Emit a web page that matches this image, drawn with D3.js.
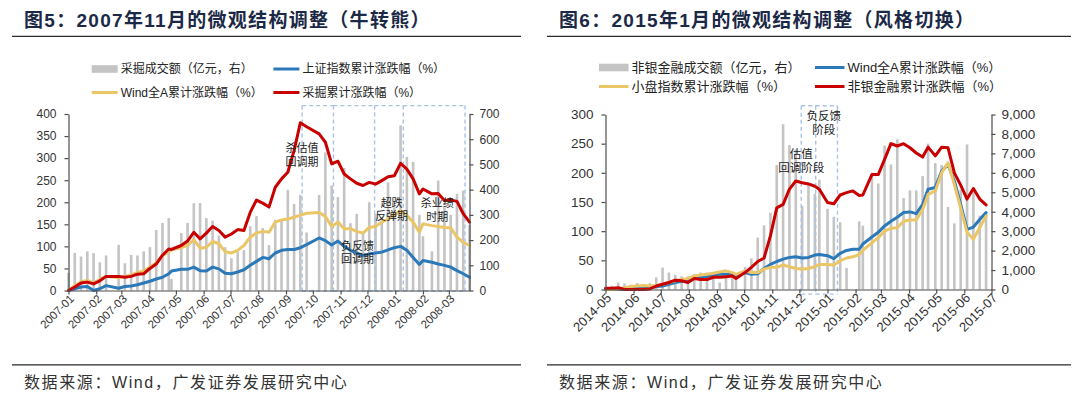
<!DOCTYPE html>
<html><head><meta charset="utf-8">
<script src="https://cdn.jsdelivr.net/npm/d3@7"></script>
<style>
body{margin:0;background:#fff;}
svg text{font-family:"Liberation Sans","Noto Sans CJK SC",sans-serif;}
</style></head><body>
<svg id="c" width="1080" height="394"></svg>
<script>
// ================= Chart 1 (图5) data =================
const dates1 = ["2007-01-05","2007-01-12","2007-01-19","2007-01-26","2007-02-02","2007-02-09","2007-02-16","2007-03-02","2007-03-09","2007-03-16","2007-03-23","2007-03-30","2007-04-06","2007-04-13","2007-04-20","2007-04-27","2007-04-30","2007-05-11","2007-05-18","2007-05-25","2007-06-01","2007-06-08","2007-06-15","2007-06-22","2007-06-29","2007-07-06","2007-07-13","2007-07-20","2007-07-27","2007-08-03","2007-08-10","2007-08-17","2007-08-24","2007-08-31","2007-09-07","2007-09-14","2007-09-21","2007-09-28","2007-10-12","2007-10-19","2007-10-26","2007-11-02","2007-11-09","2007-11-16","2007-11-23","2007-11-30","2007-12-07","2007-12-14","2007-12-21","2007-12-28","2008-01-04","2008-01-11","2008-01-18","2008-01-25","2008-02-01","2008-02-05","2008-02-15","2008-02-22","2008-02-29","2008-03-07","2008-03-14","2008-03-21","2008-03-28"];
const coalVolume = [70,149,135,155,148,112,139,181,108,141,139,155,172,240,268,287,46,228,268,346,347,287,277,218,172,128,152,160,255,295,248,180,280,277,399,343,379,230,379,548,416,370,486,267,304,230,350,304,290,429,330,655,530,510,300,215,155,436,330,300,383,396,260];
const shIndexRet = [0,4,8,9,0,4,11,5,9,10,13,17,21,26,30,38,44,48,48,53,45,44,53,49,39,38,42,47,57,66,75,72,85,91,93,93,97,104,119,113,103,112,100,91,85,79,83,85,87,92,97,100,91,75,59,68,64,60,57,53,45,38,30];
const windARet1 = [0,11,20,23,17,25,32,29,32,35,41,44,53,63,79,88,92,97,102,115,96,98,111,106,88,85,91,102,121,130,134,132,155,160,162,166,171,175,177,168,145,155,140,140,134,130,143,145,155,162,171,181,170,155,132,151,147,145,143,142,121,109,102];
const coalRet = [0,8,17,19,15,22,32,32,30,32,37,38,50,60,80,94,93,102,112,132,117,130,145,136,121,128,138,136,177,205,198,189,234,253,268,317,380,371,355,336,287,293,264,253,243,238,245,241,249,258,260,288,275,253,219,230,219,220,204,205,202,174,155];
const tickLabels1 = ["2007-01","2007-02","2007-03","2007-04","2007-05","2007-06","2007-07","2007-08","2007-09","2007-10","2007-11","2007-12","2008-01","2008-02","2008-03"];
const leftTicks1 = [0,50,100,150,200,250,300,350,400];
const rightTicks1 = [0,100,200,300,400,500,600,700];
const boxes1 = [["2007-09-23","2007-10-28"],["2007-10-28","2007-12-13"],["2007-12-13","2008-01-14"],["2008-01-14","2008-03-23"]];
const notes1 = [
  {date:"2007-09-23", v:313, lines:["杀估值","回调期"]},
  {date:"2007-11-24", v:92, lines:["负反馈","回调期"]},
  {date:"2008-01-01", v:190, lines:["超跌","反弹期"]},
  {date:"2008-02-21", v:189, lines:["杀业绩","时期"]}
];
const legend1 = ["采掘成交额（亿元，右）","上证指数累计涨跌幅（%）","Wind全A累计涨跌幅（%）","采掘累计涨跌幅（%）"];

// ================= Chart 2 (图6) data =================
const dates2 = ["2014-05-09","2014-05-16","2014-05-23","2014-05-30","2014-06-06","2014-06-13","2014-06-20","2014-06-27","2014-07-04","2014-07-11","2014-07-18","2014-07-25","2014-08-01","2014-08-08","2014-08-15","2014-08-22","2014-08-29","2014-09-05","2014-09-12","2014-09-19","2014-09-26","2014-09-30","2014-10-10","2014-10-17","2014-10-24","2014-10-31","2014-11-07","2014-11-14","2014-11-21","2014-11-28","2014-12-05","2014-12-12","2014-12-19","2014-12-26","2014-12-31","2015-01-09","2015-01-16","2015-01-23","2015-01-30","2015-02-06","2015-02-13","2015-02-17","2015-02-27","2015-03-06","2015-03-13","2015-03-20","2015-03-27","2015-04-03","2015-04-10","2015-04-17","2015-04-24","2015-04-30","2015-05-08","2015-05-15","2015-05-22","2015-05-29","2015-06-05","2015-06-12","2015-06-19","2015-06-26","2015-07-03"];
const finVolume = [0,190,360,310,240,330,270,330,620,1130,870,750,670,670,790,870,870,820,360,700,620,820,1160,1600,2670,3300,3950,6400,8500,7430,7200,4300,5500,4920,5650,4150,3740,3460,1110,0,3500,3280,5950,5450,7400,6430,7720,4700,5100,5100,5830,7500,6500,6400,4250,3400,5150,7460,5150,3800,3940];
const windARet2 = [0,0,0,1,2,3,4,3,5,6,9,12,14,17,21,22,22,25,26,26,26,25,29,26,27,36,43,48,52,55,56,54,55,59,60,58,53,62,67,69,69,78,90,98,109,117,124,132,133,130,146,172,175,203,214,186,146,103,107,120,132];
const smallCapRet = [0,0,1,3,5,6,7,6,7,9,12,15,17,19,23,25,26,28,30,32,29,26,32,29,29,35,38,38,42,39,36,35,36,39,43,43,42,49,54,56,60,67,80,89,100,105,106,117,119,119,137,163,169,200,217,180,140,98,86,106,126];
const finRet = [2,2,3,0,0,0,0,1,6,9,12,16,15,12,19,17,17,21,21,22,23,19,29,38,48,54,92,140,146,172,186,183,181,177,172,149,147,162,166,169,161,162,197,197,223,250,246,250,243,234,227,244,229,244,243,200,179,155,173,155,145];
const tickLabels2 = ["2014-05","2014-06","2014-07","2014-08","2014-09","2014-10","2014-11","2014-12","2015-01","2015-02","2015-03","2015-04","2015-05","2015-06","2015-07"];
const leftTicks2 = [0,50,100,150,200,250,300];
const rightTicks2 = [0,1000,2000,3000,4000,5000,6000,7000,8000,9000];
const boxes2 = [["2014-12-11","2014-12-27"],["2014-12-27","2015-01-20"]];
const notes2 = [
  {date:"2014-12-11", v:226, lines:["估值","回调阶段"]},
  {date:"2015-01-05", v:291, lines:["负反馈","阶段"]}
];
const legend2 = ["非银金融成交额（亿元，右）","Wind全A累计涨跌幅（%）","小盘指数累计涨跌幅（%）","非银金融累计涨跌幅（%）"];

// ================= drawing =================
const parse = d3.timeParse("%Y-%m-%d");
const svg = d3.select("#c");
const COL = {bar:"#c4c4c4", blue:"#2b79b9", yellow:"#ebc667", red:"#c80000", axis:"#4d4d4d", text:"#333"};

function drawChart(c){
  const g = svg.append("g");
  const start = parse(c.dates[0]);
  const x = d3.scaleTime().domain([start, parse(c.domainEnd)]).range([c.x0, c.x1]);
  const yL = d3.scaleLinear().domain([0, c.leftMax]).range([c.yB, c.yT]);
  const yR = d3.scaleLinear().domain([0, c.rightMax]).range([c.yB, c.yT]);

  // bars
  g.append("g").selectAll("rect")
    .data(c.dates.map((d,i)=>({d:parse(d), v:c.bars[i]})).filter(o=>o.v>0))
    .join("rect")
    .attr("x", o=>x(o.d)-c.bw/2).attr("width", c.bw)
    .attr("y", o=>yR(o.v)).attr("height", o=>yR(0)-yR(o.v))
    .attr("fill", COL.bar);

  // dashed boxes: horizontal edges per box, shared vertical edges drawn once
  const bx = g.append("g").attr("fill","none").attr("stroke","#a8c3e6")
    .attr("stroke-width",1.4).attr("stroke-dasharray","4,3");
  const yTop = yL(c.boxTop), yBot = yL(c.boxBottom);
  c.boxes.forEach(b=>{
    [yTop,yBot].forEach(yy=>bx.append("line").attr("x1",x(parse(b[0]))).attr("x2",x(parse(b[1])))
      .attr("y1",yy).attr("y2",yy));
  });
  const edges = Array.from(new Set(c.boxes.flat()));
  edges.forEach(e=>bx.append("line").attr("x1",x(parse(e))).attr("x2",x(parse(e)))
    .attr("y1",yTop).attr("y2",yBot));

  // lines
  const line = d3.line().x((v,i)=>x(parse(c.dates[i]))).y(v=>yL(v));
  c.series.forEach(s=>{
    g.append("path").datum(s.values).attr("d", line)
      .attr("fill","none").attr("stroke", s.color).attr("stroke-width", 3)
      .attr("stroke-linejoin","round").attr("stroke-linecap","round");
  });

  // axes
  const tickDates = c.tickLabels.map((t,i)=>d3.timeMonth.offset(start, i));
  const ax = g.append("g").attr("transform",`translate(0,${c.yB})`)
    .call(d3.axisBottom(x).tickValues(tickDates).tickSize(4).tickSizeOuter(0)
      .tickFormat((d,i)=>c.tickLabels[i]));
  ax.selectAll("text").attr("text-anchor","end")
    .attr("x", 0).attr("y", 0).attr("dy","0.35em")
    .attr("transform", `translate(${c.xlDx},${c.xlDy}) rotate(-45)`)
    .style("font-size", c.xFont+"px").attr("fill", COL.text);

  const al = g.append("g").attr("transform",`translate(${c.x0},0)`)
    .call(d3.axisLeft(yL).tickValues(c.leftTicks).tickSize(4).tickSizeOuter(0).tickPadding(c.yPadL));
  al.selectAll("text").style("font-size", c.yFont+"px").attr("fill", COL.text);
  const ar = g.append("g").attr("transform",`translate(${c.x1},0)`)
    .call(d3.axisRight(yR).tickValues(c.rightTicks).tickSize(4).tickSizeOuter(0).tickPadding(c.yPadR)
      .tickFormat(d3.format(c.rightFmt)));
  ar.selectAll("text").style("font-size", c.yFont+"px").attr("fill", COL.text);
  g.selectAll(".domain, .tick line").attr("stroke", COL.axis).attr("stroke-width",1.2);

  // annotations
  c.notes.forEach(n=>{
    const t = g.append("text").attr("text-anchor","middle")
      .style("font-size", c.noteFont+"px").attr("fill","#222");
    n.lines.forEach((l,k)=>{
      t.append("tspan").attr("x", x(parse(n.date))).attr("y", yL(n.v)+k*c.noteLH).text(l);
    });
  });

  // title + rules + footer
  svg.append("text").attr("x", c.titleX).attr("y", 27).text(c.title)
    .style("font-size","19px").style("font-weight","bold").style("letter-spacing","1.3px").attr("fill","#1b2946");
  svg.append("line").attr("x1", c.ruleX0).attr("x2", c.ruleX1).attr("y1",36.3).attr("y2",36.3)
    .attr("stroke","#2a2a2a").attr("stroke-width",1.3);
  svg.append("line").attr("x1", c.ruleX0).attr("x2", c.ruleX1).attr("y1",364.8).attr("y2",364.8)
    .attr("stroke","#2a2a2a").attr("stroke-width",1.3);
  svg.append("text").attr("x", c.titleX).attr("y", 388).text("数据来源：Wind，广发证券发展研究中心")
    .style("font-size","16px").style("letter-spacing","1.6px").attr("fill","#333");

  // legend
  const lg = svg.append("g");
  const items = [
    {type:"bar", color:COL.bar},
    {type:"line", color:c.series[0].color},
    {type:"line", color:c.series[1].color},
    {type:"line", color:c.series[2].color}
  ];
  items.forEach((it,k)=>{
    const lx = c.legX[k%2], ly = c.legY[Math.floor(k/2)];
    if(it.type==="bar") lg.append("rect").attr("x",lx).attr("y",ly-3.8).attr("width",c.legW).attr("height",7.6).attr("fill",it.color);
    else lg.append("line").attr("x1",lx).attr("x2",lx+c.legW).attr("y1",ly).attr("y2",ly).attr("stroke",it.color).attr("stroke-width",3);
    lg.append("text").attr("x", lx+c.legW+3).attr("y", ly).attr("dy","0.36em")
      .text(c.legend[k]).style("font-size", c.legFont+"px").attr("fill","#222");
  });
}

drawChart({
  dates:dates1, domainEnd:"2008-03-28", x0:68.5, x1:469.5, yB:290.5, yT:114,
  leftMax:400, rightMax:700, bars:coalVolume, bw:2.6,
  series:[{values:shIndexRet,color:COL.blue},{values:windARet1,color:COL.yellow},{values:coalRet,color:COL.red}],
  tickLabels:tickLabels1, leftTicks:leftTicks1, rightTicks:rightTicks1, rightFmt:"d",
  boxes:boxes1, boxTop:419, boxBottom:-1, notes:notes1, noteFont:11, noteLH:13.5,
  xFont:11.5, yFont:12, yPadL:8, yPadR:6, xlDx:3, xlDy:6,
  title:"图5：2007年11月的微观结构调整（牛转熊）", titleX:24, ruleX0:12, ruleX1:521,
  legend:legend1, legX:[91.7,273.4], legY:[69,92.5], legW:26, legFont:12
});
drawChart({
  dates:dates2, domainEnd:"2015-07-09", x0:605.5, x1:991.5, yB:289.5, yT:114.5,
  leftMax:300, rightMax:9000, bars:finVolume, bw:2.6,
  series:[{values:windARet2,color:COL.blue},{values:smallCapRet,color:COL.yellow},{values:finRet,color:COL.red}],
  tickLabels:tickLabels2, leftTicks:leftTicks2, rightTicks:rightTicks2, rightFmt:",",
  boxes:boxes2, boxTop:315, boxBottom:-8, notes:notes2, noteFont:11.5, noteLH:14.5,
  xFont:13, yFont:13.5, yPadL:8, yPadR:6, xlDx:3, xlDy:6,
  title:"图6：2015年1月的微观结构调整（风格切换）", titleX:559, ruleX0:547, ruleX1:1071,
  legend:legend2, legX:[599,815], legY:[67.5,86.5], legW:29.5, legFont:13
});
</script></body></html>
